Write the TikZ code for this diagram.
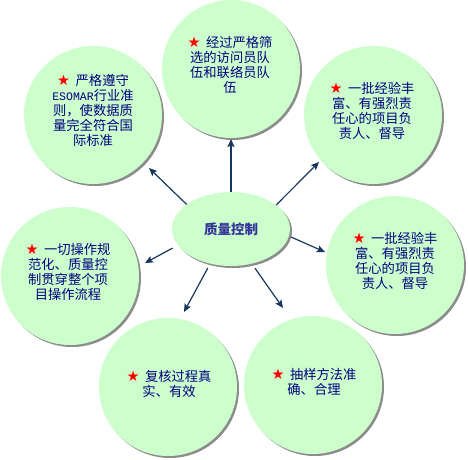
\documentclass[tikz,border=0pt]{standalone}
\usepackage{fontspec}
\newfontfamily\cjk{Noto Sans CJK SC}
\newfontfamily\starfont{DejaVu Sans}
\newfontfamily\esofont{Liberation Mono}
\usetikzlibrary{shapes.geometric,shadows,arrows.meta}
\definecolor{bubblegreen}{RGB}{204,255,204}
\definecolor{txtblue}{RGB}{0,0,128}
\definecolor{ctrblue}{RGB}{51,51,153}
\definecolor{arrowblue}{RGB}{23,55,94}
\definecolor{shadowgray}{RGB}{140,140,140}
\newcommand\stb{{\color{red}\starfont\fontsize{14.5}{14.5}\selectfont ★}\hspace{5.5pt}}
\newcommand\eso{{\esofont\fontsize{11.5}{15}\selectfont ESOMAR}}
\begin{document}
\begin{tikzpicture}[x=1pt,y=-1pt,
  bubble/.style={circle, fill=bubblegreen, minimum size=138pt, inner sep=0pt,
    drop shadow={shadow xshift=2pt, shadow yshift=-2pt, fill=shadowgray, opacity=1}},
  centre/.style={ellipse, fill=bubblegreen, minimum width=118pt, minimum height=74pt, inner sep=0pt,
    drop shadow={shadow xshift=2pt, shadow yshift=-2pt, fill=shadowgray, opacity=1},
    text=ctrblue, font=\cjk\bfseries\fontsize{13.5}{15}\selectfont},
  txt/.style={align=center, text=txtblue, inner sep=0pt, font=\cjk\fontsize{13.3}{15}\selectfont},
  arr/.style={draw=arrowblue, line width=1.2pt, -{Stealth[length=8pt, width=7pt, inset=1.5pt]}}
]
\useasboundingbox (0,0) rectangle (468,459);

% bubbles
\node[bubble] (bT)  at (231,69) {};
\node[bubble] (bTL) at (93,115) {};
\node[bubble] (bTR) at (373,115) {};
\node[bubble] (bML) at (70,276) {};
\node[bubble] (bMR) at (395,265) {};
\node[bubble] (bBL) at (168,387) {};
\node[bubble] (bBR) at (313,385) {};

% centre
\node[centre] (c) at (231,229) {质量控制};

% texts
\node[txt] (xT)  at (230,65)  {\stb 经过严格筛\\选的访问员队\\伍和联络员队\\伍};
\node[txt] (xTL) at (93,110)  {\stb 严格遵守\\\eso 行业准\\则，使数据质\\量完全符合国\\际标准};
\node[txt] (xTR) at (372,111) {\stb 一批经验丰\\富、有强烈责\\任心的项目负\\责人、督导};
\node[txt] (xML) at (68,272)  {\stb 一切操作规\\范化、质量控\\制贯穿整个项\\目操作流程};
\node[txt] (xMR) at (395,261) {\stb 一批经验丰\\富、有强烈责\\任心的项目负\\责人、督导};
\node[txt] (xBL) at (169,384) {\stb 复核过程真\\实、有效};
\node[txt] (xBR) at (314,382) {\stb 抽样方法准\\确、合理};

% arrow tips
\coordinate (tT)  at (231,139);
\coordinate (tTL) at (149,168);
\coordinate (tTR) at (319,162);
\coordinate (tMR) at (325,252);
\coordinate (tML) at (145,263);
\coordinate (tBL) at (184,312);
\coordinate (tBR) at (283,308);

% connectors
\draw[arr] (c.north) -- (tT);
\draw[arr] (c.151) -- (tTL);
\draw[arr] (c.28) -- (tTR);
\draw[arr, shorten <=2pt] (c.-7) -- (tMR);
\draw[arr, shorten <=6pt] (c.197) -- (tML);
\draw[arr, shorten <=5pt] (c.239) -- (tBL);
\draw[arr, shorten <=5.4pt] (c.301) -- (tBR);
\end{tikzpicture}
\end{document}
